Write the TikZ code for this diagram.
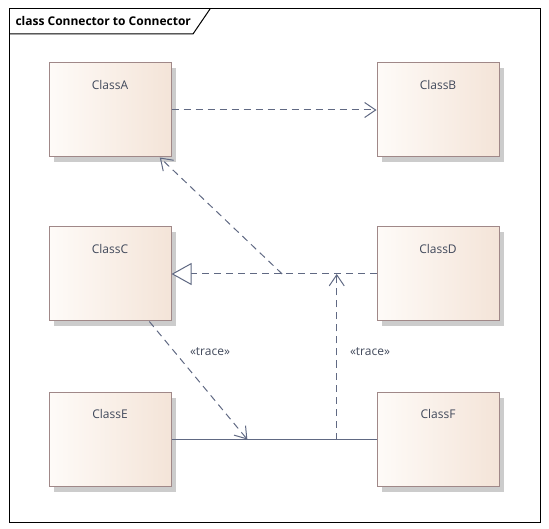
\documentclass[tikz,border=0pt]{standalone}
\usepackage{fontspec}
\setmainfont{Open Sans}
\usepackage{tikz}
\usetikzlibrary{arrows.meta}
\usetikzlibrary{shadows}
\usetikzlibrary{calc}
\definecolor{boxL}{HTML}{FEFBF8}
\definecolor{boxR}{HTML}{F4E4D8}
\definecolor{boxline}{HTML}{A08888}
\definecolor{conn}{HTML}{606983}
\definecolor{txt}{HTML}{40485A}

\begin{document}
\begin{tikzpicture}[x = 1pt, y = -1pt,
cls/.style={rectangle, draw = boxline, line width = 1pt, left color = boxL, right color = boxR,
  minimum width = 122pt, minimum height = 94pt, inner sep = 0pt,
  drop shadow = {shadow xshift = 5pt, shadow yshift = -5pt, fill = black!20, opacity = 1}},
nm/.style={anchor = north, yshift = -14pt, text = txt, font = \fontsize{12}{14}\selectfont},
trc/.style={text = txt, font = \fontsize{12}{14}\selectfont},
dep/.style={conn, line width = 1pt, dash pattern = on 7pt off 5pt, -{Straight Barb[length = 11pt, width = 15pt, line width = 1pt]}},
real/.style={conn, line width = 1pt, dash pattern = on 7pt off 5pt, -{Triangle[open, length = 20pt, width = 22pt, fill = white, line width = 1pt]}},
assoc/.style={conn, line width = 1pt}]
\useasboundingbox (0,0) rectangle (549,529);
% frame
\draw[line width = 1pt] (9,9) rectangle (540,522);
\draw[line width = 1pt] (9,34) -- (193,34) -- (210,9);
\node[anchor = west, font = \bfseries\fontsize{12}{14}\selectfont] (ttl) at (12,21) {class Connector to Connector};
% classes
\node[cls, label = {[nm]north:ClassA}] (cA) at (110,110) {};
\node[cls, label = {[nm]north:ClassB}] (cB) at (438,110) {};
\node[cls, label = {[nm]north:ClassC}] (cC) at (110,274) {};
\node[cls, label = {[nm]north:ClassD}] (cD) at (438,274) {};
\node[cls, label = {[nm]north:ClassE}] (cE) at (110,439.5) {};
\node[cls, label = {[nm]north:ClassF}] (cF) at (438,439.5) {};
% connectors
\coordinate (j1) at ($(cD.west)!0.46!(cC.east)$);
\coordinate (j2) at ($(cE.east)!0.37!(cF.west)$);
\coordinate (j3) at ($(cE.east)!0.806!(cF.west)$);
\coordinate (j4) at (j3 |- cD.west);
\draw[dep] (cA.east) -- (cB.west);
\draw[real] (cD.west) -- (cC.east);
\draw[dep] (j1) -- (cA);
\draw[assoc] (cE.east) -- (cF.west);
\draw[dep] (cC) -- (j2);
\draw[dep] (j3) -- (j4);
\node[trc] (t1) at (210,352) {«trace»};
\node[trc] (t2) at (370,352) {«trace»};
\end{tikzpicture}
\end{document}
